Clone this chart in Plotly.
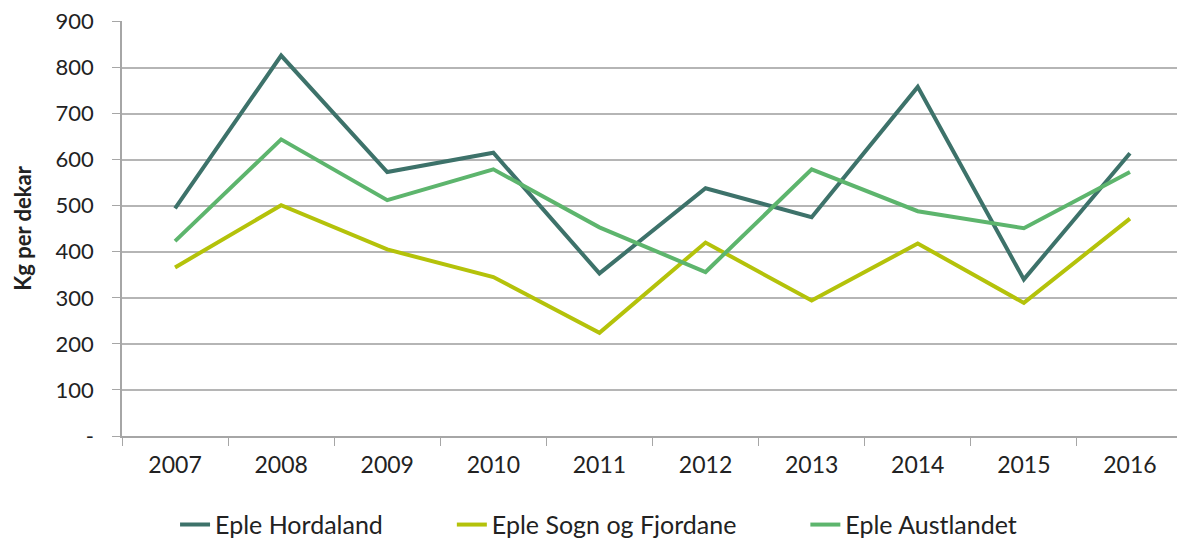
import plotly.graph_objects as go

years = ["2007", "2008", "2009", "2010", "2011", "2012", "2013", "2014", "2015", "2016"]
hordaland = [494, 826, 573, 615, 353, 538, 475, 758, 340, 614]
sogn = [366, 501, 405, 345, 224, 420, 294, 418, 289, 472]
austlandet = [423, 644, 512, 579, 453, 356, 579, 488, 451, 573]
ytick_vals = [0, 100, 200, 300, 400, 500, 600, 700, 800, 900]
ytick_text = ["-", "100", "200", "300", "400", "500", "600", "700", "800", "900"]

series = [
    ("Eple Hordaland", hordaland, "#3d726a"),
    ("Eple Sogn og Fjordane", sogn, "#b4c20a"),
    ("Eple Austlandet", austlandet, "#5db56d"),
]

fig = go.Figure()
for name, vals, col in series:
    fig.add_trace(go.Scatter(x=years, y=vals, mode="lines", name=name + "\u00a0" * 10,
                             line=dict(color=col, width=4)))

font = "Lato, Carlito, 'Open Sans', sans-serif"
fig.update_layout(
    width=1177, height=532,
    margin=dict(l=114, r=2, t=13, b=104, autoexpand=False),
    paper_bgcolor="white", plot_bgcolor="white",
    font=dict(family=font, size=22, color="#222222"),
    showlegend=True,
    legend=dict(orientation="h", x=0.05, xanchor="left", y=-0.214, yanchor="middle",
                font=dict(size=25), tracegroupgap=0),
    xaxis=dict(type="category", showgrid=False, showline=True, linecolor="#a6a6a6",
               linewidth=1.5, ticks="outside", tickson="boundaries", ticklen=8,
               tickcolor="#a6a6a6", tickfont=dict(size=23), range=[-0.5, 9.5],
               automargin=False, ticklabelstandoff=8),
    yaxis=dict(range=[0, 901], tickvals=ytick_vals, ticktext=ytick_text,
               showgrid=True, gridcolor="#b5b5b5", gridwidth=1.5,
               showline=True, linecolor="#a6a6a6", linewidth=1.5,
               ticks="outside", ticklen=8, tickcolor="#a6a6a6",
               zeroline=False, tickfont=dict(size=22), automargin=False,
               ticklabelstandoff=14, ticklabeloverflow="allow",
               title=dict(text="<b>Kg per dekar</b>", font=dict(size=22), standoff=18)),
)
fig.write_html("out.html")
